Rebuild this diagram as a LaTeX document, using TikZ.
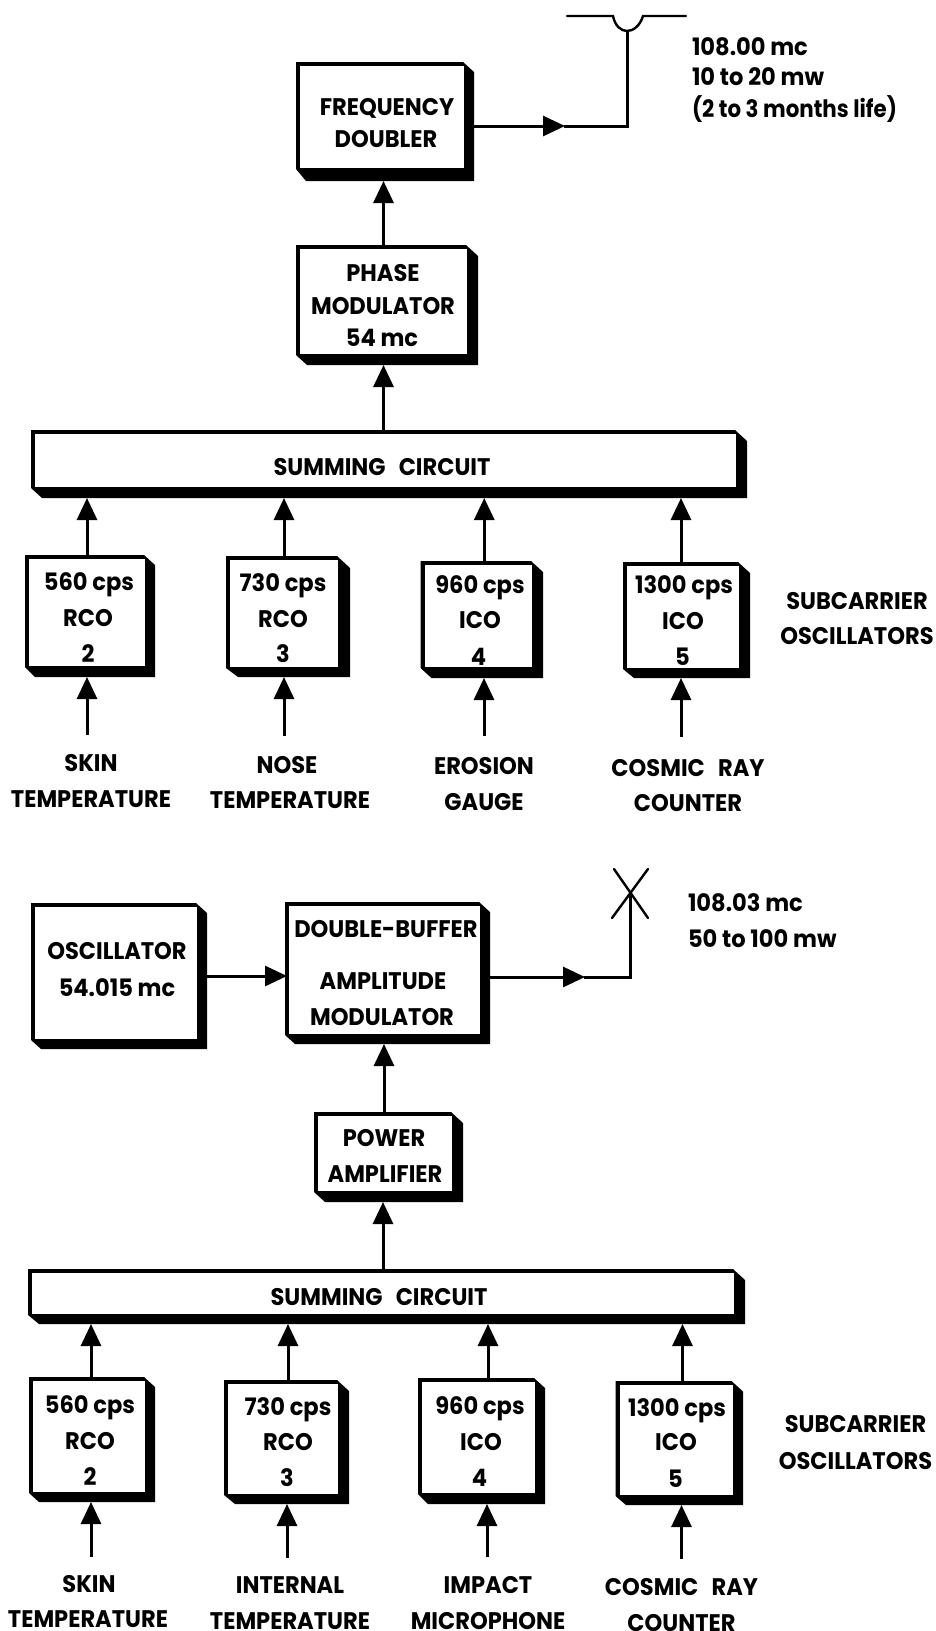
\documentclass[tikz,border=0pt]{standalone}
\usepackage{fontspec}
\setmainfont{Poppins}[FakeStretch=0.94]
\usetikzlibrary{arrows.meta,calc}
\tikzset{
  wire/.style={line width=3pt,black},
  flow/.style={wire,-{Triangle[length=22pt,width=20pt]}},
  antenna/.style={line width=2.4pt,black,line cap=round},
  frame/.style={fill=white,inner sep=0pt,outer sep=0pt},
  lbl/.style={anchor=base,inner sep=0pt,outer sep=0pt,font=\fontsize{24}{29}\selectfont\bfseries,text=black},
  lblw/.style={lbl,anchor=base west}
}
% name, L, T, inner right, inner bottom, R, B
\newcommand{\shadedblock}[7]{%
  \fill[black] (#2,#3) -- (#4-1,#3) -- (#6,#3+#6-#4) -- (#6,#7) -- (#2+#6-#4,#7) -- (#2,#5+1) -- cycle;
  \node[frame,minimum width={(#4-#2-4)*1pt},minimum height={(#5-#3-4)*1pt}] (#1) at ({(#2+4+#4)/2},{(#3+4+#5)/2}) {};
  \coordinate (#1-b) at (#6,#7);
}
\newcommand{\lab}[4]{\node[lbl] (#1) at (#2,#3+8.4) {#4};}
\newcommand{\labw}[4]{\node[lblw] (#1) at (#2,#3+8.4) {#4};}
\newcommand{\gap}{\hspace{0.55em}}
\begin{document}
\begin{tikzpicture}[x=1pt,y=-1pt]
\useasboundingbox (0,0) rectangle (935,1631);
\fill[white] (0,0) rectangle (935,1631);

\coordinate (tipA) at (565,126);
\coordinate (cornerA) at (627,126);
\coordinate (feedA) at (627,31);

% --- upper diagram: boxes
\shadedblock{fd}{296}{62}{464}{168}{474}{181}
\shadedblock{pm}{296}{245}{467}{354}{478}{365}
\shadedblock{sumA}{31}{430}{736}{487}{747}{498}
\shadedblock{rA}{25}{555}{145}{666}{155}{677}
\shadedblock{rB}{226}{556}{338}{667}{350}{677}
\shadedblock{iA}{420.5}{561}{532}{667}{543}{678}
\shadedblock{iB}{623}{562}{739}{668}{750}{678}

% --- upper diagram: connectors
\draw[flow] (tipA -| fd-b) -- (tipA);
\draw[wire,line cap=rect] (tipA) -- (cornerA) -- (feedA);
\draw[antenna] (567,16) -- (613,16) .. controls (615,26) and (621,31) .. (feedA) .. controls (633,31) and (640,26) .. (643,16) -- (686,16);
\draw[flow] (pm.north) -- (pm.north |- fd-b);
\draw[flow] (sumA.north -| pm.north) -- (pm.north |- pm-b);
\draw[flow] (rA.north) -- (rA.north |- sumA-b);
\draw[flow] (rB.north) -- (rB.north |- sumA-b);
\draw[flow] ([xshift=6pt]iA.north) -- ([xshift=6pt]iA.north |- sumA-b);
\draw[flow] ([xshift=-2pt]iB.north) -- ([xshift=-2pt]iB.north |- sumA-b);
\coordinate (inA) at (87,735);
\coordinate (inB) at (284,736);
\coordinate (inC) at (484,736);
\coordinate (inD) at (681,737);
\draw[flow] (inA) -- (inA |- rA-b);
\draw[flow] (inB) -- (inB |- rB-b);
\draw[flow] (inC) -- (inC |- iA-b);
\draw[flow] (inD) -- (inD |- iB-b);

% --- upper diagram: texts
\lab{t1}{387}{107}{FREQUENCY}
\lab{t2}{386}{139}{DOUBLER}
\lab{t3}{383}{273}{PHASE}
\lab{t4}{383}{306}{MODULATOR}
\lab{t5}{382}{338}{54 mc}
\lab{t6}{382}{467}{SUMMING\gap CIRCUIT}
\lab{t7}{89}{582}{560 cps}
\lab{t8}{88}{618}{RCO}
\lab{t9}{88}{654}{2}
\lab{t10}{283}{583}{730 cps}
\lab{t11}{283}{619}{RCO}
\lab{t12}{283}{654}{3}
\lab{t13}{480}{585}{960 cps}
\lab{t14}{480}{620}{ICO}
\lab{t15}{478.5}{657}{4}
\lab{t16}{684}{585}{1300 cps}
\lab{t17}{683}{621}{ICO}
\lab{t18}{682.5}{657}{5}
\lab{t19}{857}{601}{SUBCARRIER}
\lab{t20}{857}{636}{OSCILLATORS}
\lab{t21}{91}{763}{SKIN}
\lab{t22}{91}{799}{TEMPERATURE}
\lab{t23}{287}{765}{NOSE}
\lab{t24}{290}{800}{TEMPERATURE}
\lab{t25}{484}{766}{EROSION}
\lab{t26}{484}{802}{GAUGE}
\lab{t27}{688}{768}{COSMIC\gap RAY}
\lab{t28}{688}{803}{COUNTER}
\labw{t29}{692}{47}{108.00 mc}
\labw{t30}{692}{77}{10 to 20 mw}
\labw{t31}{692}{109}{\addfontfeatures{FakeStretch=0.89}(2 to 3 months life)}

% --- lower diagram: boxes
\shadedblock{osc}{31}{903}{197}{1039}{207}{1049}
\shadedblock{dbl}{285}{902}{480}{1034}{490}{1044}
\shadedblock{pa}{314}{1112}{452}{1191}{463}{1202}
\shadedblock{sumB}{28}{1269}{734}{1314}{745}{1324}
\shadedblock{rC}{29}{1377}{145}{1492}{155}{1502}
\shadedblock{rD}{224}{1380}{338}{1494}{349}{1504}
\shadedblock{iC}{418}{1378}{535}{1493}{545}{1504}
\shadedblock{iD}{615.5}{1381}{732.5}{1495}{743}{1505}

% --- lower diagram: connectors
\coordinate (oscOut) at (287,976);
\draw[flow] (oscOut -| osc-b) -- (oscOut);
\coordinate (tipB) at (585,977);
\coordinate (cornerB) at (630,977);
\coordinate (feedB) at (630,893);
\draw[flow] (tipB -| dbl-b) -- (tipB);
\draw[wire,line cap=rect] (tipB) -- (cornerB) -- (feedB);
\draw[antenna] (614,869) -- (648,918);
\draw[antenna] (648,869) -- (612,918);
\draw[flow] ([xshift=-1pt]pa.north) -- ([xshift=-1pt]pa.north |- dbl-b);
\draw[flow] ([xshift=-2pt]sumB.north -| pa.north) -- ([xshift=-2pt]pa.north |- pa-b);
\draw[flow] ([xshift=2pt]rC.north) -- ([xshift=2pt]rC.north |- sumB-b);
\draw[flow] ([xshift=5pt]rD.north) -- ([xshift=5pt]rD.north |- sumB-b);
\draw[flow] ([xshift=9.5pt]iC.north) -- ([xshift=9.5pt]iC.north |- sumB-b);
\draw[flow] ([xshift=6.5pt]iD.north) -- ([xshift=6.5pt]iD.north |- sumB-b);
\coordinate (inE) at (91,1557);
\coordinate (inF) at (287,1558);
\coordinate (inG) at (487,1557);
\coordinate (inH) at (681.5,1559);
\draw[flow] (inE) -- (inE |- rC-b);
\draw[flow] (inF) -- (inF |- rD-b);
\draw[flow] (inG) -- (inG |- iC-b);
\draw[flow] (inH) -- (inH |- iD-b);

% --- lower diagram: texts
\lab{u1}{117}{951}{OSCILLATOR}
\lab{u2}{117}{988}{54.015 mc}
\lab{u3}{386}{929}{DOUBLE-BUFFER}
\lab{u4}{383}{981}{AMPLITUDE}
\lab{u5}{382}{1017}{MODULATOR}
\lab{u6}{384}{1138}{POWER}
\lab{u7}{385}{1174}{AMPLIFIER}
\lab{u8}{379}{1297}{SUMMING\gap CIRCUIT}
\lab{u9}{90}{1405}{560 cps}
\lab{u10}{90}{1441}{RCO}
\lab{u11}{90}{1477}{2}
\lab{u12}{288}{1407}{730 cps}
\lab{u13}{288}{1442}{RCO}
\lab{u14}{287}{1478}{3}
\lab{u15}{480}{1406}{960 cps}
\lab{u16}{481}{1442}{ICO}
\lab{u17}{479.5}{1478}{4}
\lab{u18}{677}{1408}{1300 cps}
\lab{u19}{676}{1442}{ICO}
\lab{u20}{675.5}{1479}{5}
\lab{u21}{855.5}{1424}{SUBCARRIER}
\lab{u22}{855.5}{1461}{OSCILLATORS}
\lab{u23}{89}{1584}{SKIN}
\lab{u24}{88}{1619}{TEMPERATURE}
\lab{u25}{290}{1585}{INTERNAL}
\lab{u26}{290}{1621}{TEMPERATURE}
\lab{u27}{488}{1585}{IMPACT}
\lab{u28}{488}{1621}{MICROPHONE}
\lab{u29}{681.5}{1587}{COSMIC\gap RAY}
\lab{u30}{681.5}{1623}{COUNTER}
\labw{u31}{688}{903}{108.03 mc}
\labw{u32}{688}{939}{50 to 100 mw}
\end{tikzpicture}
\end{document}
